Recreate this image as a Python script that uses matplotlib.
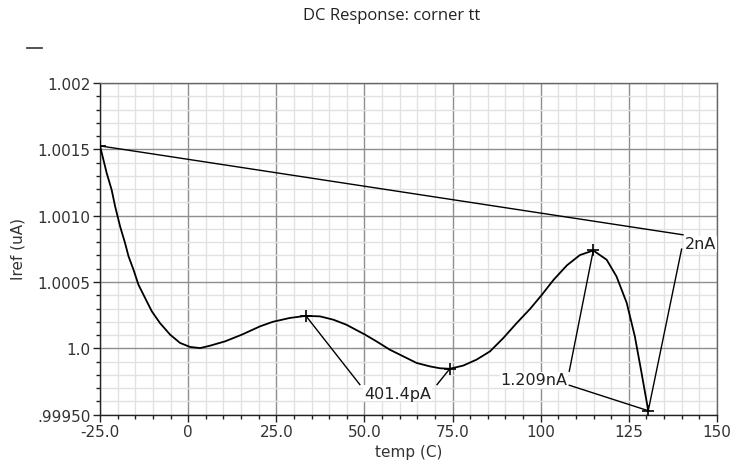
import matplotlib
matplotlib.use("Agg")
import matplotlib.pyplot as plt
from matplotlib.ticker import MultipleLocator, FixedLocator
from matplotlib.lines import Line2D

# ---- data ----
temp = [-25.0, -23.1, -21.7, -20.7, -19.3, -17.9, -16.9, -15.5, -14.1, -12.2,
        -10.3, -8.0, -5.1, -2.3, 0.5, 3.4, 6.2, 10.5, 15.2, 20.4, 24.0, 28.8,
        33.4, 37.4, 41.2, 44.9, 50.2, 53.4, 57.2, 61.0, 64.8, 68.6, 71.4, 74.2,
        78.0, 81.8, 85.6, 89.4, 93.2, 97.0, 100.3, 103.6, 107.4, 111.1, 114.9,
        118.7, 121.5, 124.4, 126.7, 128.6, 130.5]
iref = [1.001526, 1.001321, 1.001195, 1.001069, 1.000919, 1.000794, 1.000693,
        1.000593, 1.00048, 1.000379, 1.000279, 1.000191, 1.000103, 1.000041,
        1.000011, 1.000002, 1.00002, 1.000053, 1.000103, 1.000166, 1.000200,
        1.000229, 1.000245, 1.000241, 1.000216, 1.000178, 1.000103, 1.000053,
        0.99999, 0.99994, 0.99989, 0.999864, 0.99985, 0.999846, 0.99987,
        0.999915, 0.999977, 1.000078, 1.000191, 1.000298, 1.000403, 1.000515,
        1.000625, 1.000703, 1.000738, 1.000668, 1.000542, 1.000342, 1.00009,
        0.999815, 0.99953]

# marker points (indices into the series)
marker_idx = [0, 22, 33, 44, 50]

# delta annotations: (label, index A, index B)
ann_labels = ["401.4pA", "1.209nA", "2nA"]
ann_pairs = [(22, 33), (44, 50), (0, 50)]

xticks = [-25, 0, 25, 50, 75, 100, 125, 150]
xtick_labels = ["-25.0", "0", "25.0", "50.0", "75.0", "100", "125", "150"]
yticks = [0.9995, 1.0, 1.0005, 1.0010, 1.0015, 1.002]
ytick_labels = [".99950", "1.0", "1.0005", "1.0010", "1.0015", "1.002"]

# ---- figure ----
fig = plt.figure(figsize=(7.38, 4.64), dpi=100)
ax = fig.add_axes([100 / 738, 1 - 415.7 / 464, 617 / 738, (415.7 - 84) / 464])

ax.set_xlim(-25, 150)
ax.set_ylim(0.9995, 1.002)

ax.xaxis.set_major_locator(FixedLocator(xticks))
ax.set_xticklabels(xtick_labels)
ax.xaxis.set_minor_locator(MultipleLocator(5))
ax.yaxis.set_major_locator(FixedLocator(yticks))
ax.set_yticklabels(ytick_labels)
ax.yaxis.set_minor_locator(MultipleLocator(0.0001))

ax.grid(which="minor", color="#e2e2e2", linewidth=1.0, zorder=0)
ax.grid(which="major", color="#8e8e8e", linewidth=1.0, zorder=0.5)
ax.set_axisbelow(True)

for s in ["left", "bottom"]:
    ax.spines[s].set_color("#222222")
    ax.spines[s].set_linewidth(1.0)
for s in ["top", "right"]:
    ax.spines[s].set_color("#666666")
    ax.spines[s].set_linewidth(1.0)

ax.tick_params(which="major", length=5, width=1, color="#222222", pad=2,
               labelsize=11, labelcolor="#333333")
ax.tick_params(which="minor", length=3, width=1, color="#222222")

ax.set_xlabel("temp (C)", fontsize=11, color="#333333", labelpad=3)
ax.set_ylabel("Iref (uA)", fontsize=11, color="#333333")
ax.yaxis.set_label_coords(-0.121, 0.503)

# curve
ax.plot(temp, iref, color="black", linewidth=1.3, zorder=3)
ax.plot([temp[i] for i in marker_idx], [iref[i] for i in marker_idx],
        linestyle="none", marker="+", markersize=8, markeredgewidth=1.2,
        color="black", zorder=4)

# delta annotation layout (label text anchor + leader end points, data units)
ann_text_pos = [(59.4, 0.999663), (107.5, 0.999764), (140.9, 1.000788)]
ann_text_ha = ["center", "right", "left"]
ann_leader_ends = [((48.7, 0.999727), (70.6, 0.999727)),
                   ((108.1, 0.999828), (108.1, 0.999722)),
                   ((140.35, 1.000856), (139.96, 1.000748))]

for lab, (ia, ib), tp, ha, (ea, eb) in zip(ann_labels, ann_pairs, ann_text_pos,
                                          ann_text_ha, ann_leader_ends):
    ax.plot([temp[ia], ea[0]], [iref[ia], ea[1]], color="black", linewidth=1.0,
            zorder=3)
    ax.plot([temp[ib], eb[0]], [iref[ib], eb[1]], color="black", linewidth=1.0,
            zorder=3)
    ax.text(tp[0], tp[1], lab, ha=ha, va="center", fontsize=11.5, color="#222222",
            zorder=5, bbox=dict(facecolor="white", edgecolor="none", pad=0.5))

# title
fig.text(392 / 738, 1 - 16 / 464, "DC Response: corner tt", ha="center",
         va="center", fontsize=12, family="Open Sans", color="#222222")

# small legend dash
fig.add_artist(Line2D([27 / 738, 42 / 738], [1 - 49 / 464, 1 - 49 / 464],
                      transform=fig.transFigure, color="#333333", linewidth=1.2))

fig.savefig("out.png", dpi=100)
